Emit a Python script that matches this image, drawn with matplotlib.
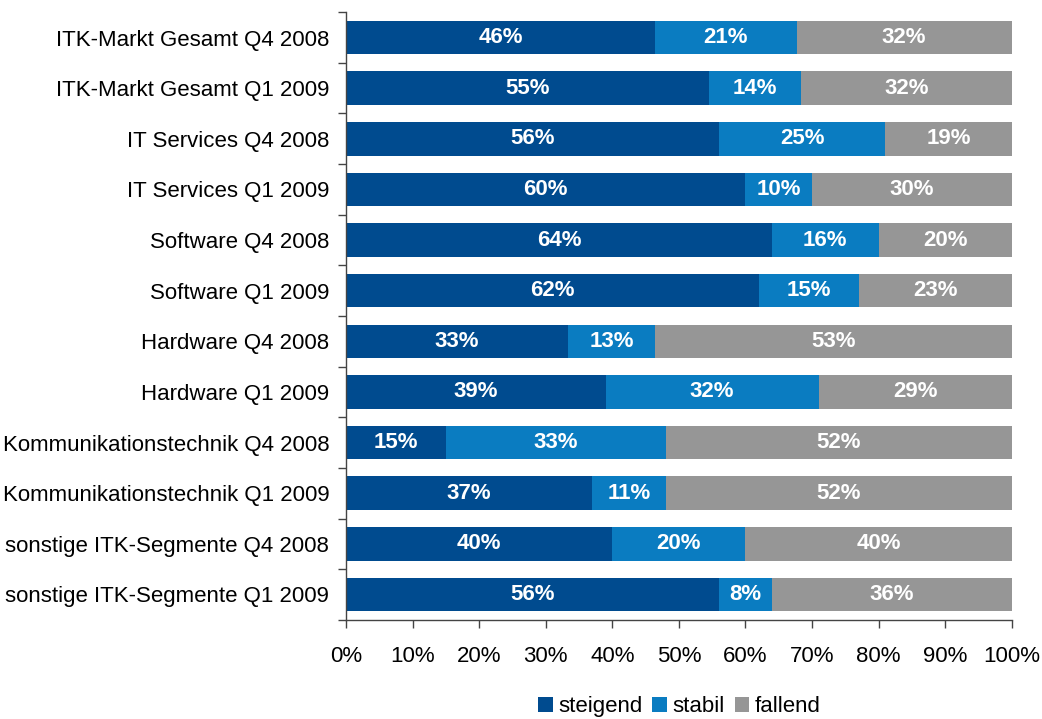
import matplotlib
matplotlib.use("Agg")
import matplotlib.pyplot as plt
import numpy as np

plt.rcParams['font.family'] = ['Liberation Sans', 'DejaVu Sans']

categories = [
    "ITK-Markt Gesamt Q4 2008",
    "ITK-Markt Gesamt Q1 2009",
    "IT Services Q4 2008",
    "IT Services Q1 2009",
    "Software Q4 2008",
    "Software Q1 2009",
    "Hardware Q4 2008",
    "Hardware Q1 2009",
    "Kommunikationstechnik Q4 2008",
    "Kommunikationstechnik Q1 2009",
    "sonstige ITK-Segmente Q4 2008",
    "sonstige ITK-Segmente Q1 2009",
]
steigend = [46, 55, 56, 60, 64, 62, 33, 39, 15, 37, 40, 56]
stabil   = [21, 14, 25, 10, 16, 15, 13, 32, 33, 11, 20, 8]
fallend  = [32, 32, 19, 30, 20, 23, 53, 29, 52, 52, 40, 36]
series_names = ["steigend", "stabil", "fallend"]
colors = ["#004B8F", "#0A7CC1", "#969696"]
xticks = [0, 10, 20, 30, 40, 50, 60, 70, 80, 90, 100]

data = np.array([steigend, stabil, fallend], dtype=float)
shares = data / data.sum(axis=0) * 100  # 100% stacked

fig = plt.figure(figsize=(10.42, 7.19), dpi=100)
ax = fig.add_axes([0.332, 0.138, 0.639, 0.845])

FS = 16
y = np.arange(len(categories))
left = np.zeros(len(categories))
for i, name in enumerate(series_names):
    bars = ax.barh(y, shares[i], left=left, height=0.66, color=colors[i],
                   label=name, edgecolor='none')
    for j, b in enumerate(bars):
        ax.text(left[j] + shares[i][j] / 2, y[j], f"{int(data[i][j])}%",
                ha='center', va='center', color='white', fontsize=FS,
                fontweight='bold')
    left += shares[i]

ax.set_xlim(0, 100)
ax.set_ylim(len(categories) - 0.5, -0.5)
ax.set_xticks(xticks)
ax.set_xticklabels([f"{t}%" for t in xticks], fontsize=FS)
ax.set_yticks(y)
ax.set_yticklabels(categories, fontsize=FS)
ax.tick_params(axis='y', which='major', length=0, pad=12)
ax.set_yticks(np.arange(-0.5, len(categories)), minor=True)
ax.tick_params(axis='y', which='minor', length=6, color='#444444', width=1)
ax.tick_params(axis='x', length=6, color='#444444', width=1, pad=13)

for s in ['top', 'right']:
    ax.spines[s].set_visible(False)
for s in ['left', 'bottom']:
    ax.spines[s].set_color('#444444')
    ax.spines[s].set_linewidth(1)

fig.legend(loc='center', bbox_to_anchor=(0.652, 0.017), ncol=3, frameon=False,
           fontsize=FS, handlelength=0.65, handleheight=0.65, handletextpad=0.25,
           columnspacing=0.45, borderpad=0)

fig.savefig("out.png", dpi=100)
